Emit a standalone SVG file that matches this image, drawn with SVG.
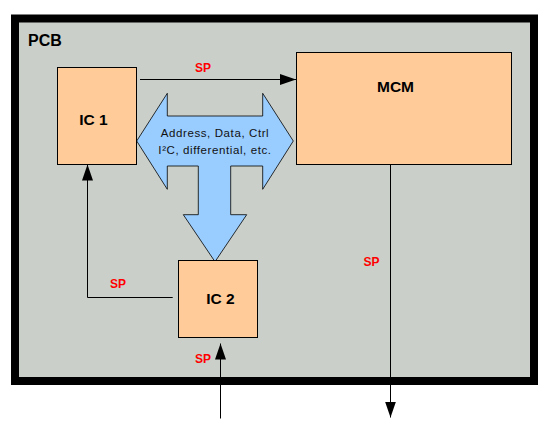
<svg xmlns="http://www.w3.org/2000/svg" width="550" height="436" viewBox="0 0 550 436">
<style>
.box{fill:#ffcc99;stroke:#000;stroke-width:1}
.lbl{font-family:"Liberation Sans",Arial,sans-serif;font-weight:bold;font-size:15.5px;fill:#000;text-anchor:middle}
.sp{font-family:"Liberation Sans",Arial,sans-serif;font-weight:bold;font-size:12px;fill:#ff0000;text-anchor:middle}
.bus{font-family:"Liberation Sans",Arial,sans-serif;font-size:11.5px;letter-spacing:0.6px;fill:#111;text-anchor:middle}
.wire{fill:none;stroke:#000;stroke-width:1}
</style>
<defs>
<marker id="ah" markerUnits="userSpaceOnUse" markerWidth="16" markerHeight="11" refX="16" refY="5.5" orient="auto">
<path d="M0,0 L16,5.5 L0,11 z" fill="#000"/>
</marker>
</defs>
<rect width="550" height="436" fill="#fff"/>
<g id="pcb">
<rect x="15" y="18.5" width="519" height="362.5" fill="#cad0c9" stroke="#000" stroke-width="8"/>
<text class="lbl" x="28" y="46" style="text-anchor:start;font-size:16px">PCB</text>
</g>
<g id="bus">
<polygon points="136.7,141 167.3,93.3 167.3,116 262.7,116 262.7,93.3 293.3,141 262.7,189.3 262.7,166 230.7,166 230.7,214.7 246.7,214.7 215,261.7 183.3,214.7 198.3,214.7 198.3,166 167.3,166 167.3,189.3" fill="#99ccff" stroke="#000" stroke-width="0.8"/>
<text class="bus" x="215" y="137">Address, Data, Ctrl</text>
<text class="bus" x="215" y="153.5">I²C, differential, etc.</text>
</g>
<g id="ic1">
<rect class="box" x="57.5" y="67.5" width="79" height="97"/>
<text class="lbl" x="93.5" y="124.5">IC 1</text>
</g>
<g id="mcm">
<rect class="box" x="296.5" y="52.5" width="215" height="112"/>
<text class="lbl" x="395.5" y="92">MCM</text>
</g>
<g id="ic2">
<rect class="box" x="178.5" y="260.5" width="79" height="77"/>
<text class="lbl" x="220.5" y="304">IC 2</text>
</g>
<g id="connectors">
<line class="wire" x1="140" y1="79.5" x2="296" y2="79.5" marker-end="url(#ah)"/>
<text class="sp" x="203" y="72">SP</text>
<polyline class="wire" points="172.7,297.5 87.5,297.5 87.5,164.5" marker-end="url(#ah)"/>
<text class="sp" x="118" y="288">SP</text>
<line class="wire" x1="220.5" y1="418.5" x2="220.5" y2="343.5" marker-end="url(#ah)"/>
<text class="sp" x="203" y="362.5">SP</text>
<line class="wire" x1="390.5" y1="164.5" x2="390.5" y2="417.5" marker-end="url(#ah)"/>
<text class="sp" x="371.5" y="266">SP</text>
</g>
</svg>
